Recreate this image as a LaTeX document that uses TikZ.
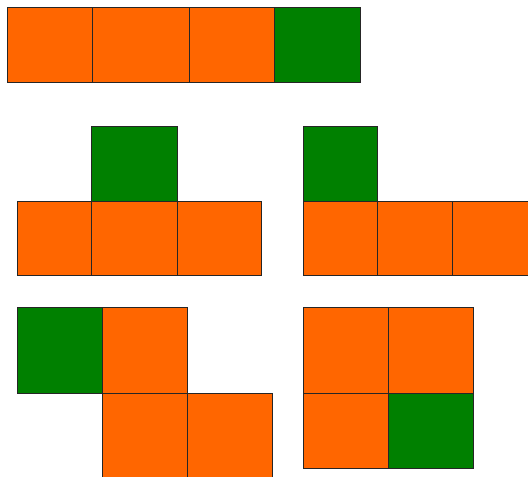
\documentclass[tikz,border=0pt]{standalone}
\usepackage{tikz}
\usetikzlibrary{positioning}
\usepackage{xcolor}
\definecolor{tileorange}{HTML}{FF6600}
\definecolor{tilegreen}{HTML}{008000}

\begin{document}
\begin{tikzpicture}[
    x=1pt, y=-1pt,
    orangecell/.style={fill=tileorange, draw=black!85, line width=0.8pt},
    greencell/.style={fill=tilegreen, draw=black!85, line width=0.8pt}
]
    \useasboundingbox (0,0) rectangle (528,477);
    \clip (0,0) rectangle (528,477);

    % straight piece
    \foreach \xa/\xb in {7/92, 92/189, 189/274}
        \draw[orangecell] (\xa,7) rectangle (\xb,82);
    \draw[greencell] (274,7) rectangle (360,82);

    % T piece
    \foreach \xa/\xb in {17/91, 91/177, 177/261}
        \draw[orangecell] (\xa,201) rectangle (\xb,275);
    \draw[greencell] (91,126) rectangle (177,201);

    % L piece
    \draw[greencell] (303,126) rectangle (377,201);
    \foreach \xa/\xb in {303/377, 377/452, 452/530}
        \draw[orangecell] (\xa,201) rectangle (\xb,275);

    % S piece
    \draw[greencell] (17,307) rectangle (102,393);
    \draw[orangecell] (102,307) rectangle (187,393);
    \draw[orangecell] (102,393) rectangle (187,480);
    \draw[orangecell] (187,393) rectangle (272,480);

    % square piece
    \draw[orangecell] (303,307) rectangle (388,393);
    \draw[orangecell] (388,307) rectangle (473,393);
    \draw[orangecell] (303,393) rectangle (388,468);
    \draw[greencell] (388,393) rectangle (473,468);
\end{tikzpicture}
\end{document}
